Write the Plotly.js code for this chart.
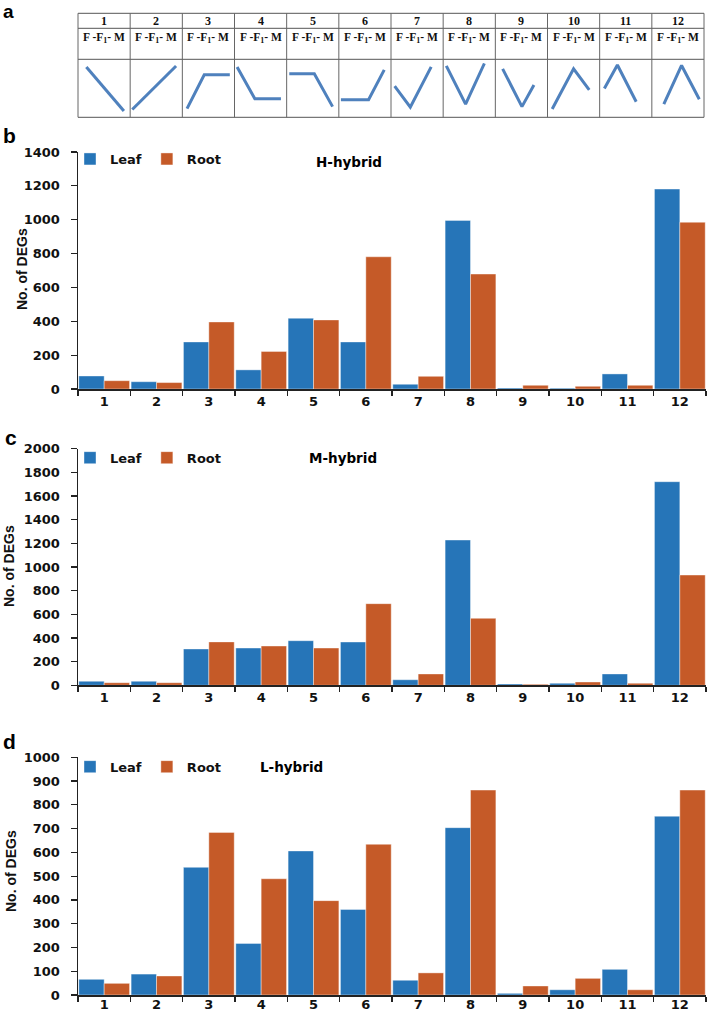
<!DOCTYPE html>
<html>
<head>
<meta charset="utf-8">
<script src="https://cdn.plot.ly/plotly-3.0.1.min.js"></script>
<style>
  html, body { margin: 0; padding: 0; background: #fff; }
  #chart { width: 709px; height: 1013px; }
</style>
</head>
<body>
<div id="chart"></div>
<script>
  // expression patterns 1..12
  var categories = ['1', '2', '3', '4', '5', '6', '7', '8', '9', '10', '11', '12'];
  var patternLabel = 'F -F<sub>1</sub>- M';

  // H-hybrid
  var leafH = [77, 43, 278, 113, 418, 278, 28, 996, 6, 5, 89, 1181];
  var rootH = [49, 38, 396, 222, 408, 781, 75, 679, 22, 16, 22, 985];
  // M-hybrid
  var leafM = [34, 34, 307, 315, 377, 366, 47, 1228, 11, 17, 96, 1721];
  var rootM = [22, 22, 367, 332, 315, 690, 96, 566, 8, 28, 17, 932];
  // L-hybrid
  var leafL = [66, 88, 537, 217, 606, 360, 62, 704, 7, 22, 108, 752];
  var rootL = [49, 80, 684, 489, 397, 634, 93, 862, 38, 70, 22, 862];

  // little sketches of F - F1 - M levels (x inside cell, y level 0..1)
  var patternX = [
    [0.16, 0.52, 0.88], [0.04, 0.46, 0.88], [0.09, 0.42, 0.91], [0.05, 0.39, 0.89],
    [0.05, 0.53, 0.88], [0.04, 0.57, 0.87], [0.07, 0.37, 0.77], [0.06, 0.43, 0.79],
    [0.14, 0.51, 0.74], [0.09, 0.50, 0.80], [0.09, 0.34, 0.70], [0.23, 0.57, 0.91]
  ];
  var patternY = [
    [0.92, 0.47, 0.02], [0.05, 0.50, 0.94], [0.07, 0.76, 0.76], [0.92, 0.27, 0.27],
    [0.78, 0.78, 0.11], [0.25, 0.25, 0.86], [0.53, 0.10, 0.92], [0.94, 0.16, 0.99],
    [0.88, 0.11, 0.55], [0.06, 0.88, 0.45], [0.48, 0.96, 0.21], [0.16, 0.95, 0.26]
  ];

  var W = 709, H = 1013;
  function px(x) { return x / W; }
  function py(y) { return 1 - y / H; }

  var blue = '#2675b8';
  var orange = '#c55a28';
  var tickFont = { family: 'DejaVu Sans', size: 13, color: '#111', weight: 'bold' };
  var legFont = { family: 'DejaVu Sans', size: 13, color: '#111', weight: 'bold' };

  function bars(name, xs, ys, color, ax, leg, show) {
    return {
      type: 'bar', name: name, x: xs, y: ys,
      xaxis: 'x' + ax, yaxis: 'y' + ax, legend: leg, showlegend: show,
      marker: { color: color, line: { color: '#ffffff', width: 0.4 } },
      hoverinfo: 'x+y+name'
    };
  }

  var data = [
    bars('Leaf', categories, leafH, blue, '', 'legend', true),
    bars('Root', categories, rootH, orange, '', 'legend', true),
    bars('Leaf', categories, leafM, blue, '2', 'legend2', true),
    bars('Root', categories, rootM, orange, '2', 'legend2', true),
    bars('Leaf', categories, leafL, blue, '3', 'legend3', true),
    bars('Root', categories, rootL, orange, '3', 'legend3', true)
  ];

  // sketch lines for panel a
  var sx = [], sy = [];
  for (var i = 0; i < patternX.length; i += 1) {
    for (var j = 0; j < patternX[i].length; j += 1) {
      sx.push(i + patternX[i][j]);
      sy.push(patternY[i][j]);
    }
    sx.push(null);
    sy.push(null);
  }
  data.push({
    type: 'scatter', mode: 'lines', x: sx, y: sy, xaxis: 'x4', yaxis: 'y4',
    line: { color: '#4f81bd', width: 3 }, showlegend: false, hoverinfo: 'skip',
    connectgaps: false
  });

  var xDomain = [px(78), px(706)];

  function xAxis(anchor, standoff) {
    return {
      domain: xDomain, anchor: anchor, type: 'category',
      tickson: 'boundaries', ticks: 'outside', ticklen: 5, tickwidth: 1.2, tickcolor: '#222',
      showline: true, linecolor: '#222', linewidth: 1.5,
      showgrid: false, zeroline: false, tickfont: tickFont, fixedrange: true,
      ticklabelstandoff: standoff
    };
  }
  function yAxis(anchor, dom, top, step) {
    return {
      domain: dom, anchor: anchor, range: [0, top], dtick: step, tick0: 0,
      ticks: 'outside', ticklen: 6, tickwidth: 1.2, tickcolor: '#222',
      showline: true, linecolor: '#222', linewidth: 1.5,
      showgrid: false, zeroline: false, tickfont: tickFont,
      ticklabelstandoff: 8, fixedrange: true
    };
  }

  // table grid for panel a
  var tLeft = 78, tRight = 704;
  var rowLines = [13.3, 28.3, 59.3, 117.3];
  var cellW = (tRight - tLeft) / categories.length;
  var shapes = [];
  rowLines.forEach(function (yy) {
    shapes.push({
      type: 'line', xref: 'paper', yref: 'paper',
      x0: px(tLeft), x1: px(tRight), y0: py(yy), y1: py(yy),
      line: { color: '#555', width: 1 }
    });
  });
  for (var k = 0; k <= categories.length; k += 1) {
    var xx = tLeft + k * cellW;
    shapes.push({
      type: 'line', xref: 'paper', yref: 'paper',
      x0: px(xx), x1: px(xx), y0: py(rowLines[0]), y1: py(rowLines[3]),
      line: { color: '#666', width: 1 }
    });
  }

  var annotations = [];
  var serif = { family: 'Liberation Serif', size: 12, color: '#111', weight: 'bold' };
  for (var c = 0; c < categories.length; c += 1) {
    var cx = tLeft + (c + 0.5) * cellW;
    annotations.push({
      xref: 'paper', yref: 'paper', x: px(cx), y: py(21), text: '<b>' + categories[c] + '</b>',
      showarrow: false, xanchor: 'center', yanchor: 'middle', font: serif
    });
    annotations.push({
      xref: 'paper', yref: 'paper', x: px(cx), y: py(38.5), text: '<b>' + patternLabel + '</b>',
      showarrow: false, xanchor: 'center', yanchor: 'middle',
      font: { family: 'Liberation Serif', size: 11.5, color: '#111' }
    });
  }

  // panel letters ('a' hangs from the top edge so it is not clipped)
  annotations.push({
    xref: 'paper', yref: 'paper', x: px(2), y: 1, text: '<b>a</b>',
    showarrow: false, xanchor: 'left', yanchor: 'top', borderpad: 0,
    font: { family: 'Liberation Sans', size: 19, color: '#000' }
  });
  var letters = [['b', 1, 135], ['c', 3, 437], ['d', 1, 741]];
  letters.forEach(function (l) {
    annotations.push({
      xref: 'paper', yref: 'paper', x: px(l[1]), y: py(l[2]), text: '<b>' + l[0] + '</b>',
      showarrow: false, xanchor: 'left', yanchor: 'middle',
      font: { family: 'Liberation Sans', size: 21, color: '#000' }
    });
  });

  // hybrid titles
  var titles = [['H-hybrid', 314, 162], ['M-hybrid', 307, 458], ['L-hybrid', 258, 767]];
  titles.forEach(function (t) {
    annotations.push({
      xref: 'paper', yref: 'paper', x: px(t[1]), y: py(t[2]), text: '<b>' + t[0] + '</b>',
      showarrow: false, xanchor: 'left', yanchor: 'middle',
      font: { family: 'DejaVu Sans', size: 13.5, color: '#000' }
    });
  });

  // y axis titles
  var yTitles = [[22, 269], [9, 566], [11, 871]];
  yTitles.forEach(function (t) {
    annotations.push({
      xref: 'paper', yref: 'paper', x: px(t[0]), y: py(t[1]), text: '<b>No. of DEGs</b>',
      showarrow: false, xanchor: 'center', yanchor: 'middle', textangle: -90,
      font: { family: 'Liberation Sans Narrow, Liberation Sans', size: 14, color: '#111' }
    });
  });

  function legendAt(yy) {
    return {
      x: px(70), y: py(yy), xanchor: 'left', yanchor: 'middle', orientation: 'h',
      bgcolor: 'rgba(0,0,0,0)', font: legFont, itemwidth: 30, traceorder: 'normal'
    };
  }

  var layout = {
    width: W, height: H,
    margin: { l: 0, r: 0, t: 0, b: 0 },
    paper_bgcolor: '#fff', plot_bgcolor: '#fff',
    barmode: 'group', bargap: 0.03, bargroupgap: 0,
    xaxis: xAxis('y', 0),
    yaxis: yAxis('x', [py(389), py(152)], 1400, 200),
    xaxis2: xAxis('y2', 0),
    yaxis2: yAxis('x2', [py(685.3), py(448.7)], 2000, 200),
    xaxis3: xAxis('y3', -3),
    yaxis3: yAxis('x3', [py(995), py(757.3)], 1000, 100),
    xaxis4: { domain: [px(tLeft), px(tRight)], anchor: 'y4', range: [0, 12], visible: false, fixedrange: true },
    yaxis4: { domain: [py(112), py(63)], anchor: 'x4', range: [0, 1], visible: false, fixedrange: true },
    legend: legendAt(159),
    legend2: legendAt(457.7),
    legend3: legendAt(766.7),
    shapes: shapes,
    annotations: annotations
  };

  Plotly.newPlot('chart', data, layout, { displayModeBar: false, staticPlot: true });
</script>
</body>
</html>
